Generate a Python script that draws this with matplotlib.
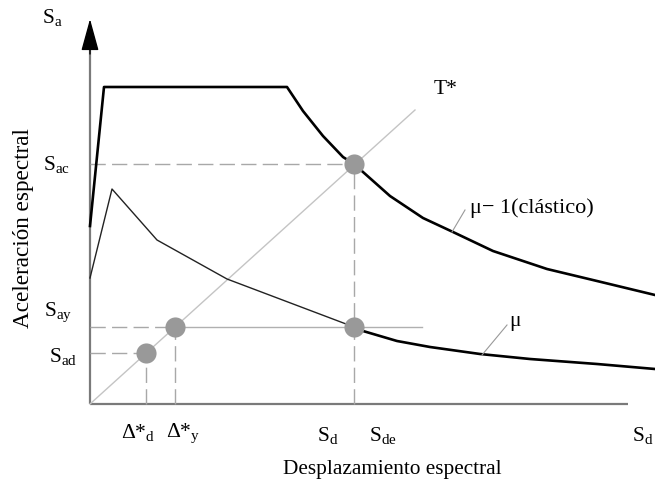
import matplotlib
matplotlib.use('Agg')
import matplotlib.pyplot as plt

plt.rcParams['font.family'] = ['Liberation Serif', 'DejaVu Serif']
plt.rcParams['mathtext.fontset'] = 'custom'
plt.rcParams['mathtext.rm'] = 'Liberation Serif'
plt.rcParams['mathtext.it'] = 'Liberation Serif'

# espectro elastico (mu = 1), Sd vs Sa (unidades arbitrarias del esquema)
elastic_sd = [0, 14, 197, 213, 233, 253, 264, 300, 333, 363, 403, 457, 507, 565]
elastic_sa = [178, 317, 317, 293, 268, 247, 240, 208, 186, 172, 153, 135, 123, 109]

# espectro inelastico (mu), tramo fino y tramo grueso
inel_thin_sd = [0, 22, 67, 137, 264]
inel_thin_sa = [126, 215, 164, 125, 77]
inel_sd = [264, 273, 307, 340, 390, 440, 507, 565]
inel_sa = [77, 73, 63, 57, 50, 45, 40, 35]

# recta T*
tline_sd = [0, 325]
tline_sa = [0, 294]

# puntos de interes
sd_e, sa_e = 264, 240
sd_y, sa_y = 85, 77
sd_d, sa_d = 56, 51
pt_sd = [sd_e, sd_e, sd_y, sd_d]
pt_sa = [sa_e, sa_y, sa_y, sa_d]

fig = plt.figure(figsize=(6.55, 4.89), dpi=100)
ax = fig.add_axes([0, 0, 1, 1])
ax.set_xlim(-90, 565)
ax.set_ylim(-84, 405)
ax.axis('off')

axis_c = '#7a7a7a'
dash_c = '#a8a8a8'
fs = 15.5

# ejes
ax.plot([0, 538], [0, 0], color=axis_c, lw=1.6, solid_capstyle='butt')
ax.plot([0, 0], [0, 358], color=axis_c, lw=1.6, solid_capstyle='butt')
ax.annotate('', xy=(0, 385), xytext=(0, 350),
            arrowprops=dict(arrowstyle='-|>,head_length=2.0,head_width=0.55',
                            color='black', lw=1, shrinkA=0, shrinkB=0))

# lineas de referencia
dash = dict(color=dash_c, lw=1, dashes=(11, 4.5))
ax.plot([0, sd_e], [sa_e, sa_e], **dash)
ax.plot([sd_e, sd_e], [0, sa_e], **dash)
ax.plot([0, sd_y], [sa_y, sa_y], **dash)
ax.plot([sd_y, sd_y], [0, sa_y], **dash)
ax.plot([0, sd_d], [sa_d, sa_d], **dash)
ax.plot([sd_d, sd_d], [0, sa_d], **dash)
ax.plot([sd_y, 332], [sa_y, sa_y], color='#b0b0b0', lw=1)

ax.plot(tline_sd, tline_sa, color='#c4c4c4', lw=1)

# espectros
ax.plot(elastic_sd, elastic_sa, color='black', lw=1.9, solid_joinstyle='round')
ax.plot(inel_thin_sd, inel_thin_sa, color='#222222', lw=1)
ax.plot(inel_sd, inel_sa, color='black', lw=1.9, solid_joinstyle='round')

ax.plot(pt_sd, pt_sa, 'o', color='#999999', ms=14.5, mec='none', zorder=5)

# lineas guia de etiquetas
ax.plot([362, 375], [172, 194], color='#999999', lw=0.8)
ax.plot([392, 417], [49, 79], color='#999999', lw=0.8)

# textos
ax.text(-38, 387, r'$\mathrm{S_a}$', fontsize=fs, ha='center', va='center')
ax.text(-33, 240, r'$\mathrm{S_{ac}}$', fontsize=fs, ha='center', va='center')
ax.text(-32, 93, r'$\mathrm{S_{ay}}$', fontsize=fs, ha='center', va='center')
ax.text(-27, 48, r'$\mathrm{S_{ad}}$', fontsize=fs, ha='center', va='center')
ax.text(48, -28, r'$\mathrm{\Delta{*}_d}$', fontsize=fs, ha='center', va='center')
ax.text(93, -28, r'$\mathrm{\Delta{*}_y}$', fontsize=fs, ha='center', va='center')
ax.text(238, -31, r'$\mathrm{S_d}$', fontsize=fs, ha='center', va='center')
ax.text(293, -31, r'$\mathrm{S_{de}}$', fontsize=fs, ha='center', va='center')
ax.text(553, -31, r'$\mathrm{S_d}$', fontsize=fs, ha='center', va='center')
ax.text(356, 315, 'T*', fontsize=fs, ha='center', va='center')
ax.text(380, 197, 'μ− 1(clástico)', fontsize=16, ha='left', va='center')
ax.text(425, 83, 'μ', fontsize=fs, ha='center', va='center')
ax.text(302, -65, 'Desplazamiento espectral', fontsize=15.3, ha='center', va='center')
ax.text(-66, 177, 'Aceleración espectral', fontsize=16.7, ha='center', va='center',
        rotation=90)

fig.savefig('out.png', dpi=100)
